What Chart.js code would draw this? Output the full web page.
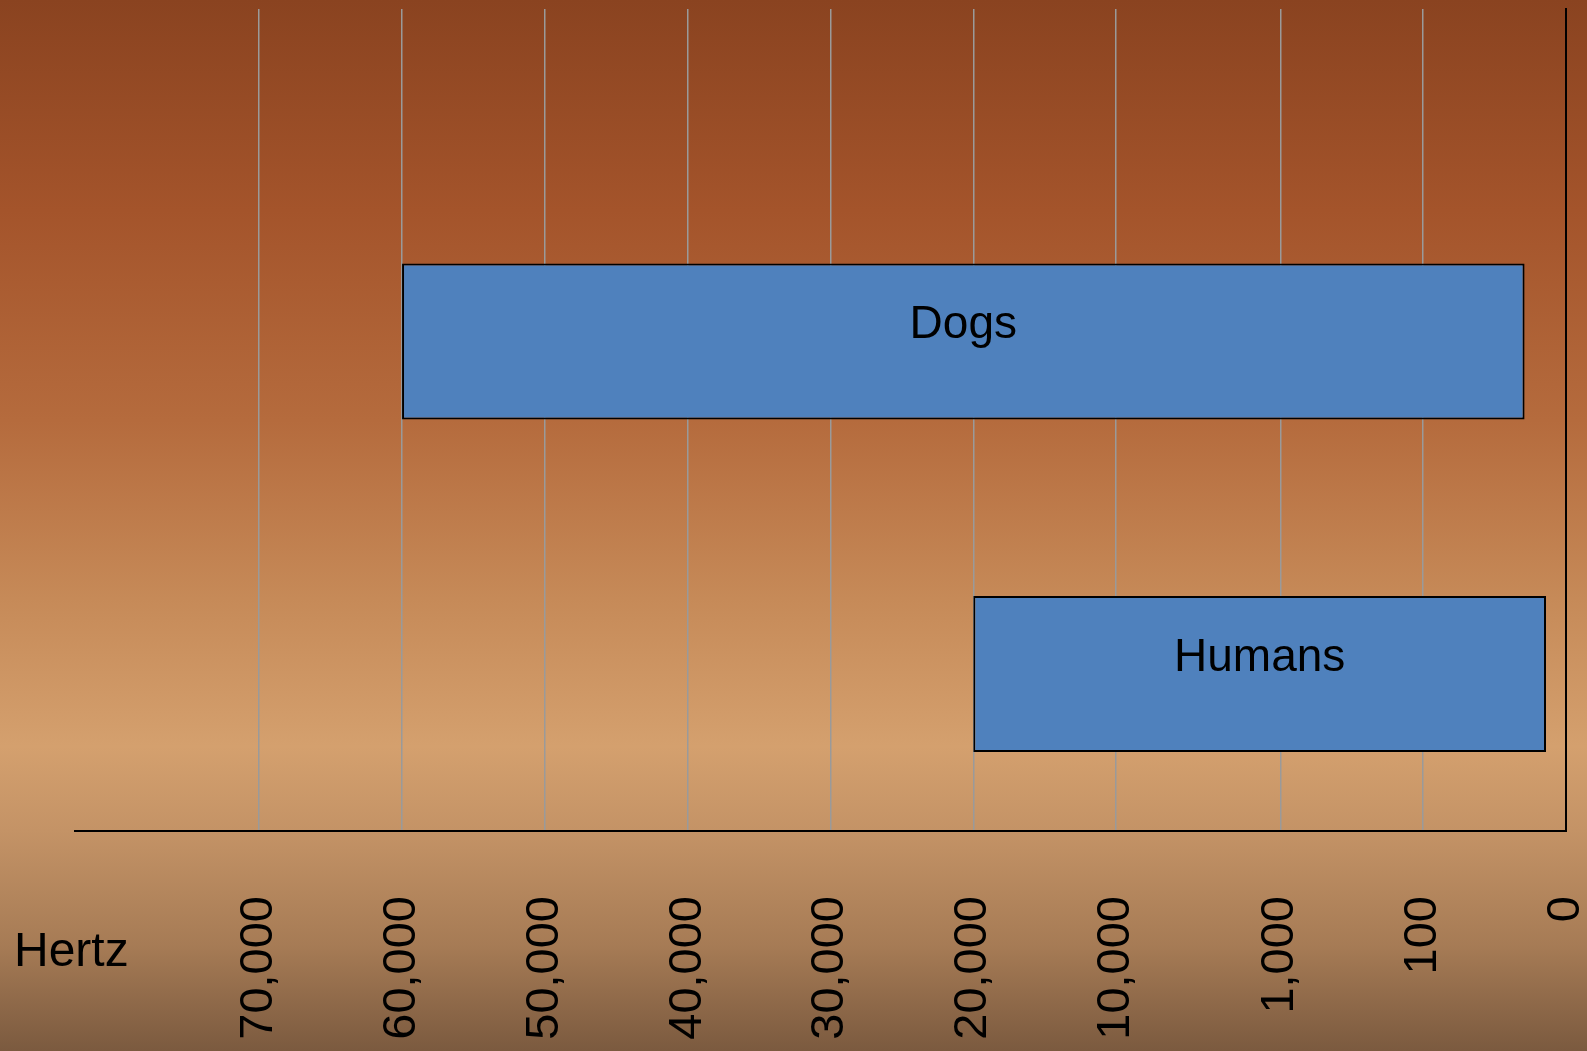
<!DOCTYPE html>
<html>
<head>
<meta charset="utf-8">
<title>Hearing range</title>
<script src="https://cdn.jsdelivr.net/npm/chart.js@4.4.1/dist/chart.umd.min.js"></script>
<style>
    html, body { margin: 0; padding: 0; width: 1587px; height: 1051px; overflow: hidden; }
    body {
        background: linear-gradient(to bottom,
            #8a4320 0%, #a4542b 20%, #b56b3d 40%, #c68a58 57%,
            #d4a06e 71%, #c49366 79%, #a67b55 90%, #7b5a3f 100%);
    }
    #wrap { position: relative; width: 1587px; height: 1051px; }
    canvas { display: block; }
</style>
</head>
<body>
<div id="wrap"><canvas id="hearing-chart" width="1587" height="1051"></canvas></div>
<script>
const animals = ["Dogs", "Humans"];
const lowHz = [29, 14];
const highHz = [60000, 20000];
const tickHz = [0, 100, 1000, 10000, 20000, 30000, 40000, 50000, 60000, 70000];
const tickLabels = ["0", "100", "1,000", "10,000", "20,000", "30,000", "40,000", "50,000", "60,000", "70,000"];
const axisTitle = "Hertz";

// the axis is not linear, every tick gets its own slot
const tickSlots = [0, 1, 2, 3.15, 4.15, 5.15, 6.15, 7.15, 8.15, 9.15];

function toSlot(hz) {
    for (let i = 1; i < tickHz.length; i++) {
        if (hz <= tickHz[i]) {
            const f = (hz - tickHz[i - 1]) / (tickHz[i] - tickHz[i - 1]);
            return tickSlots[i - 1] + f * (tickSlots[i] - tickSlots[i - 1]);
        }
    }
    return tickSlots[tickSlots.length - 1];
}

const FONT = "Arial, 'Liberation Sans', sans-serif";

// text on the bars + the "Hertz" label
const labelPlugin = {
    id: "labels",
    afterDatasetsDraw(chart) {
        const ctx = chart.ctx;
        const meta = chart.getDatasetMeta(0);
        ctx.save();
        ctx.fillStyle = "#000";
        ctx.font = "46px " + FONT;
        ctx.textAlign = "center";
        ctx.textBaseline = "middle";
        meta.data.forEach((bar, i) => {
            // text sits a bit above the middle of the bar
            ctx.fillText(animals[i], (bar.x + bar.base) / 2, bar.y - 16);
        });
        ctx.restore();
    },
    afterDraw(chart) {
        const ctx = chart.ctx;
        ctx.save();
        ctx.fillStyle = "#000";
        ctx.font = "48px " + FONT;
        ctx.textAlign = "left";
        ctx.textBaseline = "alphabetic";
        ctx.fillText(axisTitle, 14, 966);
        ctx.restore();
    }
};

const ctx = document.getElementById("hearing-chart").getContext("2d");
new Chart(ctx, {
    type: "bar",
    data: {
        datasets: [
            {
                label: "Hearing range",
                data: animals.map((a, i) => ({ y: i + 1, x: [toSlot(highHz[i]), toSlot(lowHz[i])] })),
                backgroundColor: "#4f81bd",
                borderColor: "#000",
                borderWidth: 2,
                borderSkipped: false,
                barPercentage: 0.586,
                categoryPercentage: 0.8,
            },
        ],
    },
    options: {
        indexAxis: "y",
        responsive: false,
        animation: false,
        layout: { padding: { left: 75, right: 21, top: 9, bottom: 0 } },
        plugins: {
            legend: { display: false },
            tooltip: { enabled: false },
        },
        scales: {
            x: {
                type: "linear",
                position: "bottom",
                reverse: true,
                offset: false,
                min: 0,
                max: 10.44,
                afterBuildTicks: (axis) => {
                    axis.ticks = tickSlots.map((v) => ({ value: v }));
                },
                afterFit: (axis) => {
                    axis.height = 220;
                    axis.paddingLeft = 0;
                    axis.paddingRight = 0;
                },
                ticks: {
                    autoSkip: false,
                    minRotation: 90,
                    maxRotation: 90,
                    padding: 65,
                    color: "#000",
                    font: { family: FONT, size: 47 },
                    callback: (value) => {
                        const i = tickSlots.indexOf(value);
                        return i >= 0 ? tickLabels[i] : "";
                    },
                },
                grid: { color: "#9a9a9a", lineWidth: 1.5, drawTicks: false },
                border: { color: "#000", width: 2 },
            },
            y: {
                type: "linear",
                position: "right",
                reverse: true,
                offset: false,
                min: 0,
                max: 2.472,
                afterBuildTicks: (axis) => {
                    axis.ticks = [{ value: 1 }, { value: 2 }];
                },
                afterFit: (axis) => {
                    axis.width = 0;
                },
                ticks: { display: false },
                grid: { display: false, drawTicks: false, offset: false },
                border: { color: "#000", width: 2 },
            },
        },
    },
    plugins: [labelPlugin],
});
</script>
</body>
</html>
